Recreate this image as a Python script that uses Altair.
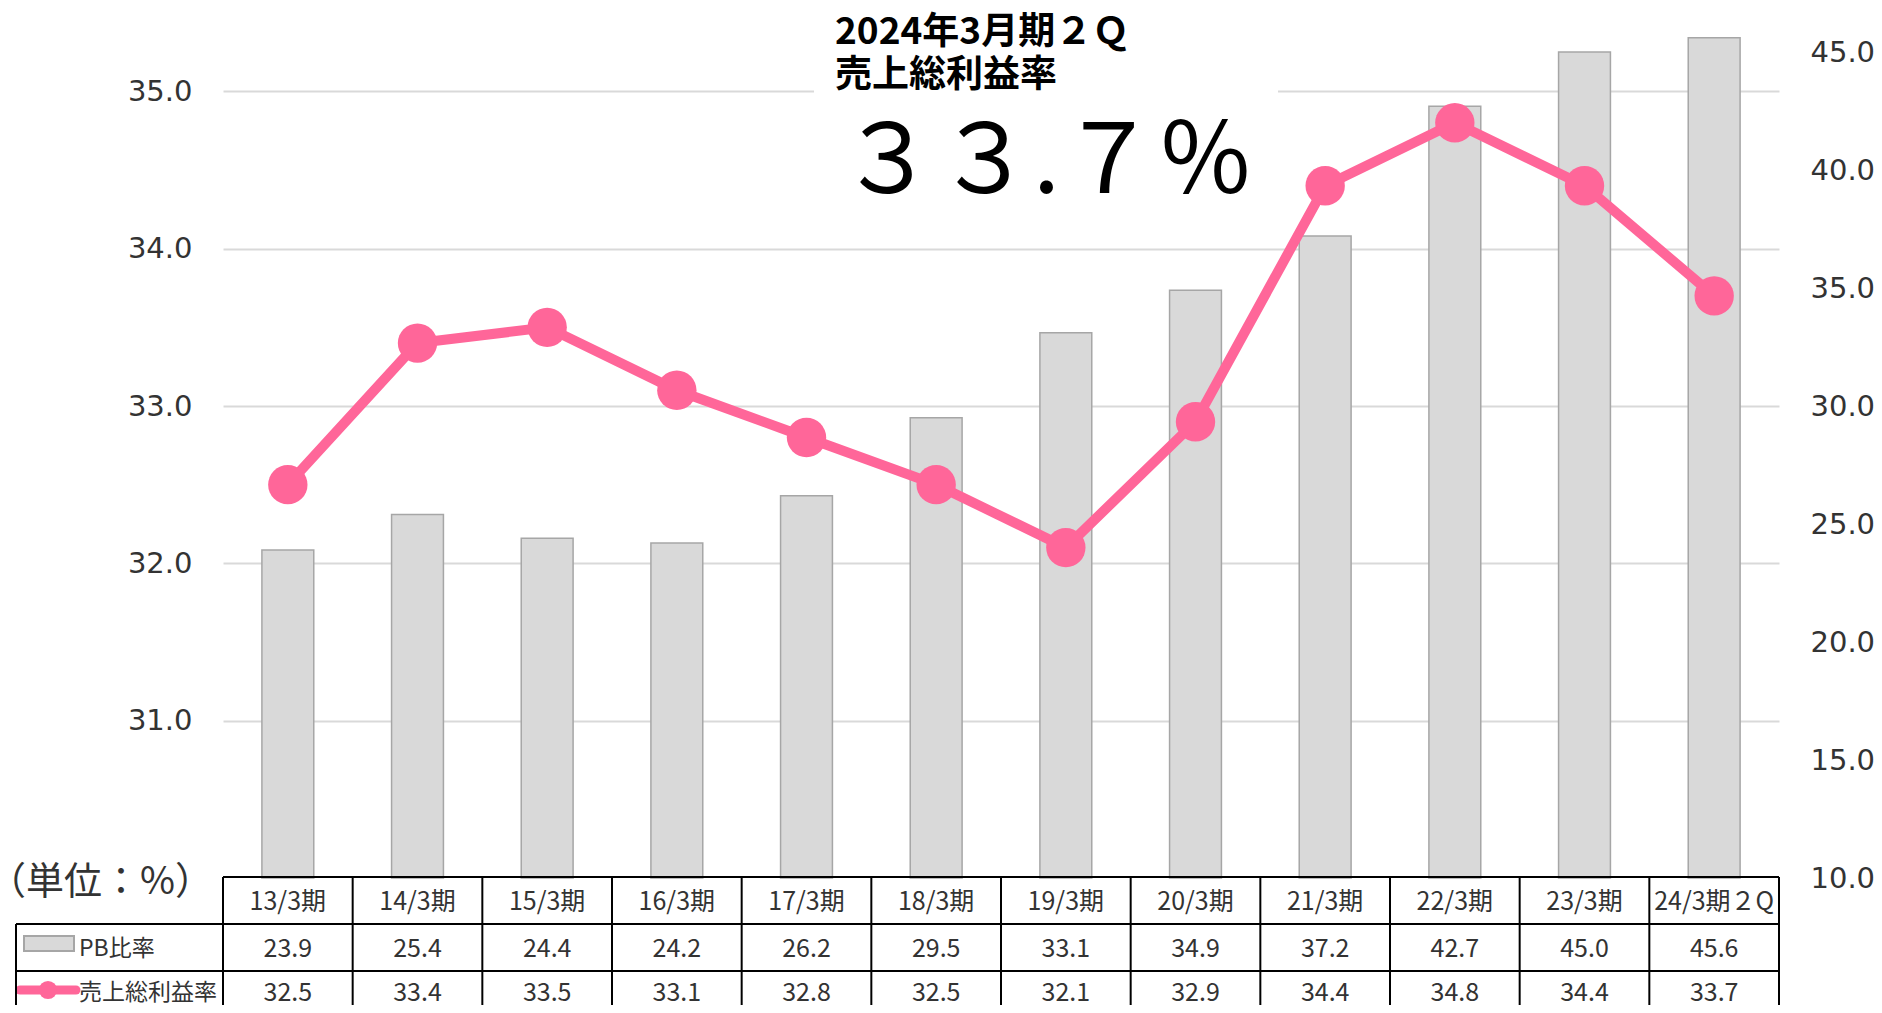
import altair as alt
import pandas as pd

# ---------------- data ----------------
categories = ["13/3期", "14/3期", "15/3期", "16/3期", "17/3期", "18/3期",
              "19/3期", "20/3期", "21/3期", "22/3期", "23/3期", "24/3期２Q"]
pb_ratio = [23.9, 25.4, 24.4, 24.2, 26.2, 29.5, 33.1, 34.9, 37.2, 42.7, 45.0, 45.6]
gross_margin = [32.5, 33.4, 33.5, 33.1, 32.8, 32.5, 32.1, 32.9, 34.4, 34.8, 34.4, 33.7]
left_ticks = [31, 32, 33, 34, 35]
right_ticks = [10, 15, 20, 25, 30, 35, 40, 45]
series_names = ["PB比率", "売上総利益率"]
title_line1 = "2024年3月期２Ｑ"
title_line2 = "売上総利益率"
headline = "３３.７％"
unit_label = "（単位：%）"

df = pd.DataFrame({"cat": categories, "pb": pb_ratio, "gm": gross_margin})
df["pb_txt"] = [f"{v:.1f}" for v in pb_ratio]
df["gm_txt"] = [f"{v:.1f}" for v in gross_margin]
one = pd.DataFrame({"k": [0]})

# ---------------- layout ----------------
W, H = 1556, 826
STEP = W / len(categories)
PINK = "#FF6699"
BAR_FILL = "#D9D9D9"
BAR_EDGE = "#A6A6A6"
AX_FONT = "DejaVu Sans"
JP_FONT = "Noto Sans CJK JP"
TB_FONT = "Noto Sans CJK JP"
TXT = "#333333"

xenc = alt.X("cat:N", sort=categories, axis=None,
             scale=alt.Scale(paddingInner=0.6, paddingOuter=0.3))

bars = alt.Chart(df).mark_bar(color=BAR_FILL, stroke=BAR_EDGE, strokeWidth=1.5).encode(
    x=xenc,
    y=alt.Y("pb:Q",
            scale=alt.Scale(domain=[10, 45], nice=False, zero=False),
            axis=alt.Axis(orient="right", values=right_ticks, format=".1f", grid=False,
                          domain=False, ticks=False, tickSize=0, labelPadding=31,
                          labelFont=AX_FONT, labelFontSize=29, labelColor=TXT, title=None)),
    y2=alt.datum(10),
)

line_base = alt.Chart(df).encode(
    x=xenc,
    y=alt.Y("gm:Q",
            scale=alt.Scale(domain=[30, 35.25], nice=False, zero=False),
            axis=alt.Axis(orient="left", values=left_ticks, format=".1f", grid=True,
                          gridColor="#D9D9D9", gridWidth=2, domain=False, ticks=False,
                          tickSize=0, labelPadding=31, labelFont=AX_FONT,
                          labelFontSize=29, labelColor=TXT, title=None)),
)
line = line_base.mark_line(color=PINK, strokeWidth=10)
pts = line_base.mark_circle(color=PINK, size=1550, opacity=1)
line_layer = alt.layer(line, pts)

# white box behind the headline
white_box = alt.Chart(one).mark_rect(color="white").encode(
    x=alt.value(591), x2=alt.value(1055), y=alt.value(-52), y2=alt.value(160))

t1 = alt.Chart(one).mark_text(text=title_line1, font=JP_FONT, fontWeight="bold", fontSize=37,
                               align="left", baseline="alphabetic", color="black").encode(
    x=alt.value(612), y=alt.value(-8))
t2 = alt.Chart(one).mark_text(text=title_line2, font=JP_FONT, fontWeight="bold", fontSize=37,
                               align="left", baseline="alphabetic", color="black").encode(
    x=alt.value(612), y=alt.value(35))
t3 = alt.Chart(one).mark_text(text=headline, font=JP_FONT, fontSize=97,
                               align="left", baseline="alphabetic", color="black").encode(
    x=alt.value(616), y=alt.value(141))

unit = alt.Chart(one).mark_text(text=unit_label, font=TB_FONT, fontSize=38,
                                 align="left", baseline="middle", color=TXT).encode(
    x=alt.value(-235), y=alt.value(831))

# ---------------- table ----------------
hdr = alt.Chart(df).mark_text(font=TB_FONT, fontSize=25, color=TXT, baseline="middle").encode(
    x=xenc, y=alt.value(850), text="cat:N")
row_pb = alt.Chart(df).mark_text(font=TB_FONT, fontSize=25, color=TXT, baseline="middle").encode(
    x=xenc, y=alt.value(897), text="pb_txt:N")
row_gm = alt.Chart(df).mark_text(font=TB_FONT, fontSize=25, color=TXT, baseline="middle").encode(
    x=xenc, y=alt.value(941), text="gm_txt:N")

lab_pb = alt.Chart(one).mark_text(text=series_names[0], font=TB_FONT, fontSize=23, color=TXT,
                                   align="left", baseline="middle").encode(
    x=alt.value(-144), y=alt.value(897))
lab_gm = alt.Chart(one).mark_text(text=series_names[1], font=TB_FONT, fontSize=23, color=TXT,
                                   align="left", baseline="middle").encode(
    x=alt.value(-144), y=alt.value(941))

icon_pb = alt.Chart(one).mark_rect(fill=BAR_FILL, stroke=BAR_EDGE, strokeWidth=2).encode(
    x=alt.value(-199), x2=alt.value(-149), y=alt.value(884), y2=alt.value(899))
icon_gm_line = alt.Chart(one).mark_rule(color=PINK, strokeWidth=9, strokeCap="round").encode(
    x=alt.value(-203), x2=alt.value(-147), y=alt.value(938))
icon_gm_dot = alt.Chart(one).mark_circle(color=PINK, size=330, opacity=1).encode(
    x=alt.value(-175), y=alt.value(938))

RULE = dict(color="black", strokeWidth=2)
h1 = alt.Chart(one).mark_rule(**RULE).encode(x=alt.value(0), x2=alt.value(W), y=alt.value(825))
h2 = alt.Chart(one).mark_rule(**RULE).encode(x=alt.value(-207), x2=alt.value(W), y=alt.value(872))
h3 = alt.Chart(one).mark_rule(**RULE).encode(x=alt.value(-207), x2=alt.value(W), y=alt.value(919))
vcols = alt.Chart(df).mark_rule(xOffset=-STEP / 2, **RULE).encode(
    x=xenc, y=alt.value(825), y2=alt.value(970))
vright = alt.Chart(one).mark_rule(**RULE).encode(x=alt.value(W), y=alt.value(825), y2=alt.value(970))
vleft = alt.Chart(one).mark_rule(**RULE).encode(x=alt.value(-207), y=alt.value(872), y2=alt.value(970))

chart = alt.layer(
    bars, line_layer, white_box, t1, t2, t3, unit,
    hdr, row_pb, row_gm, lab_pb, lab_gm, icon_pb, icon_gm_line, icon_gm_dot,
    h1, h2, h3, vcols, vright, vleft,
).resolve_scale(y="independent").properties(
    width=W, height=H,
    padding={"left": 215, "top": 44, "right": 95, "bottom": 127},
    autosize=alt.AutoSizeParams(type="none"),
    background="white",
).configure_view(stroke=None)

chart.save("out.html", embed_options={"renderer": "svg", "actions": False})
